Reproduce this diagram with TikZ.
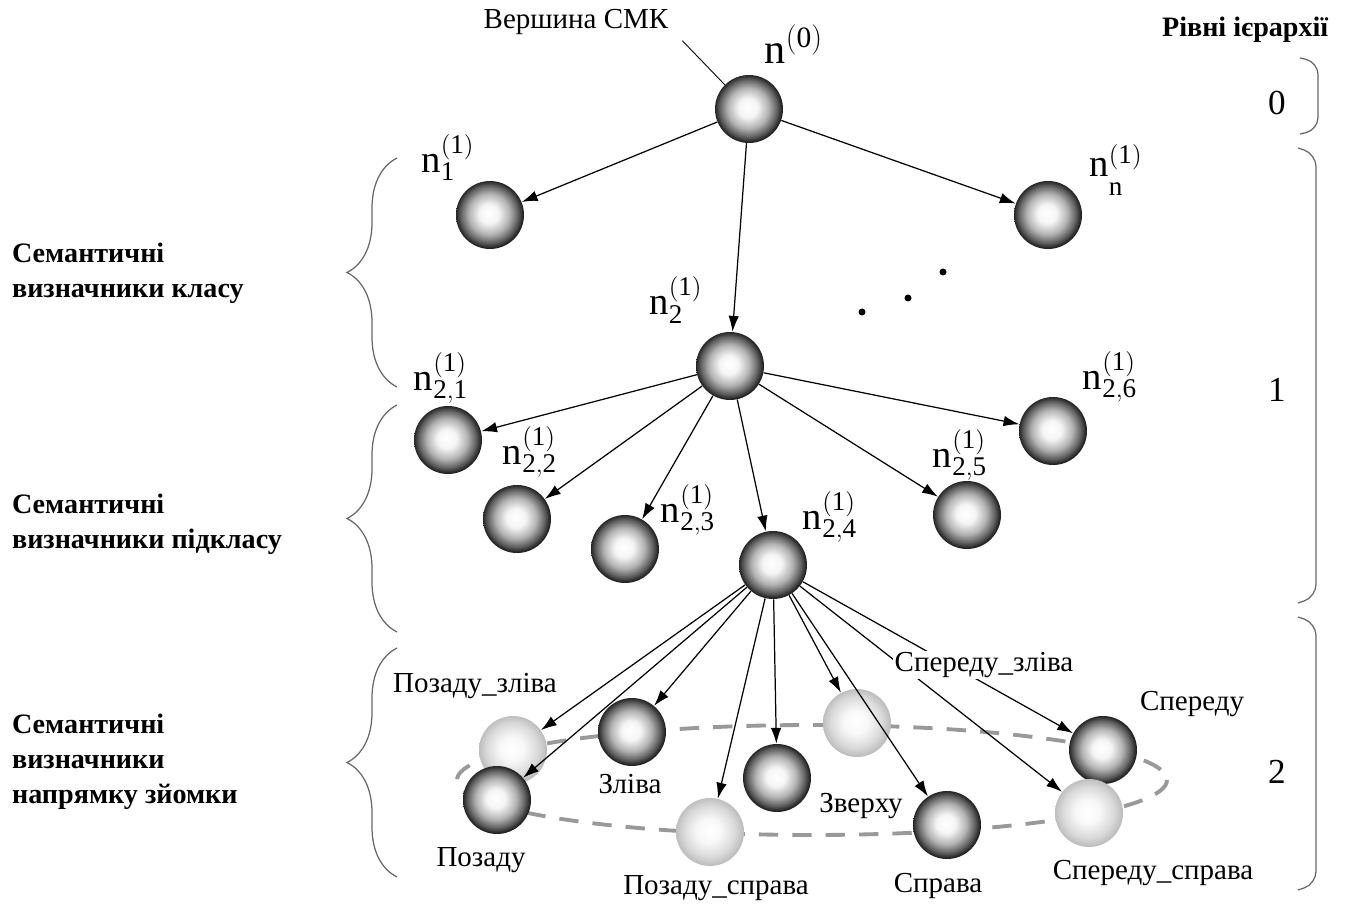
\documentclass[tikz,border=0pt]{standalone}
\usepackage{fontspec}
\setmainfont{Liberation Serif}
\usetikzlibrary{arrows.meta,decorations.pathreplacing}
\pgfdeclareradialshading{darkball}{\pgfpoint{-1bp}{1bp}}{color(0bp)=(white); color(7bp)=(white!96!black); color(15bp)=(black!30); color(21bp)=(black!62); color(24bp)=(black!82); color(25bp)=(black!88); color(50bp)=(black!88)}
\pgfdeclareradialshading{lightball}{\pgfpoint{-1bp}{1bp}}{color(0bp)=(white); color(9bp)=(white!97!black); color(19bp)=(black!15); color(25bp)=(black!26); color(50bp)=(black!26)}
\begin{document}
\begin{tikzpicture}[x=0.02cm,y=-0.02cm,every node/.style={inner sep=1pt, font=\fontsize{16.5}{19}\selectfont},
  ball/.style={circle, minimum size=1.36cm, inner sep=0pt, shading=darkball},
  lightb/.style={ball, shading=lightball},
  nlabel/.style={font=\fontsize{22}{26}\selectfont},
  side/.style={align=left, anchor=west, font=\fontsize{16}{20}\selectfont\bfseries},
  lvl/.style={font=\fontsize{20}{24}\selectfont},
  arr/.style={-{Latex[length=9pt,width=6pt]}, line width=0.7pt},
  brk/.style={black!60, line width=0.7pt}]
\useasboundingbox (0,0) rectangle (1352,908);
\node[ball] (n0) at (749,109) {};
\node[ball] (n11) at (490,215) {};
\node[ball] (n1n) at (1048,215) {};
\node[ball] (n2) at (730,366) {};
\node[ball] (n21) at (448,440) {};
\node[ball] (n22) at (517,519) {};
\node[ball] (n23) at (625,549) {};
\node[ball] (n24) at (773,565) {};
\node[ball] (n25) at (967,515) {};
\node[ball] (n26) at (1053,431) {};
\fill (943,272) circle (3.5);
\fill (908,298) circle (3.5);
\fill (862,312) circle (3.5);
\draw[black!40,line width=2.2pt,dash pattern=on 11pt off 8pt] (812,780) ellipse [x radius=355, y radius=55];
\node[lightb] (pzl) at (513,750) {};
\node[ball] (pz) at (497,800) {};
\node[ball] (zl) at (632,732) {};
\node[lightb] (pzs) at (710,832) {};
\node[ball] (zv) at (777,778) {};
\node[lightb] (szl) at (857,723) {};
\node[ball] (spr) at (947,825) {};
\node[ball] (sp) at (1103,750) {};
\node[lightb] (sps) at (1089,813) {};
\draw[arr] (n0) -- (n11);
\draw[arr] (n0) -- (n1n);
\draw[arr] (n0) -- (n2);
\foreach \t in {n21,n22,n23,n24,n25,n26}
  \draw[arr] (n2) -- (\t);
\foreach \t in {pzl,pz,zl,pzs,zv,szl,spr,sp,sps}
  \draw[arr] (n24) -- (\t);
\node (vtx) at (576,22) {Вершина СМК};
\draw[line width=0.5pt] ([xshift=0.24cm,yshift=-0.08cm]vtx.south east) -- (n0.north west);
\node[side] (lvls) at (1160,30) {Рівні ієрархії};
\node[nlabel,font=\fontsize{24}{28}\selectfont] (l0) at (794,44) {$\mathrm{n}^{\mathrm{(0)}}$};
\node[nlabel] (l11) at (448,158) {$\mathrm{n}^{\mathrm{(1)}}_{\mathrm{1}}$};
\node[nlabel] (l1n) at (1116,170) {$\mathrm{n}^{\mathrm{(1)}}_{\raisebox{-6pt}{$\scriptstyle\mathrm{n}$}}$};
\node[nlabel] (l2) at (676,300) {$\mathrm{n}^{\mathrm{(1)}}_{\mathrm{2}}$};
\node[nlabel] (l21) at (441,378) {$\mathrm{n}^{\mathrm{(1)}}_{\mathrm{2,1}}$};
\node[nlabel] (l22) at (530,452) {$\mathrm{n}^{\mathrm{(1)}}_{\mathrm{2,2}}$};
\node[nlabel] (l23) at (688,510) {$\mathrm{n}^{\mathrm{(1)}}_{\mathrm{2,3}}$};
\node[nlabel] (l24) at (830,517) {$\mathrm{n}^{\mathrm{(1)}}_{\mathrm{2,4}}$};
\node[nlabel] (l25) at (960,455) {$\mathrm{n}^{\mathrm{(1)}}_{\mathrm{2,5}}$};
\node[nlabel] (l26) at (1110,377) {$\mathrm{n}^{\mathrm{(1)}}_{\mathrm{2,6}}$};
\node (lpzl) at (475,686) {Позаду\_зліва};
\node (lpz) at (481,860) {Позаду};
\node (lzl) at (630,784) {Зліва};
\node (lpzs) at (716,888) {Позаду\_справа};
\node (lzv) at (861,806) {Зверху};
\node (lspr) at (938,886) {Справа};
\node (lsp) at (1192,704) {Спереду};
\node (lsps) at (1153,873) {Спереду\_справа};
\node[fill=white] (lszl) at (984,665) {Спереду\_зліва};
\node[side] (cls) at (10,273) {Семантичні\\визначники класу};
\node[side] (sub) at (10,524) {Семантичні\\визначники підкласу};
\node[side] (dir) at (10,762) {Семантичні\\визначники\\напрямку зйомки};
\draw[brk,decorate,decoration={brace,amplitude=1cm}] (397,387) -- (397,158);
\draw[brk,decorate,decoration={brace,amplitude=1cm}] (397,632) -- (397,405);
\draw[brk,decorate,decoration={brace,amplitude=1cm}] (397,877) -- (397,648);
\draw[brk,rounded corners=0.25cm] (1300,58) -- (1318,62) -- (1318,130) -- (1300,134);
\draw[brk,rounded corners=0.25cm] (1298,148) -- (1316,154) -- (1316,597) -- (1298,603);
\draw[brk,rounded corners=0.25cm] (1298,617) -- (1316,623) -- (1316,884) -- (1298,890);
\node[lvl] (lv0) at (1277,103) {0};
\node[lvl] (lv1) at (1277,390) {1};
\node[lvl] (lv2) at (1277,772) {2};
\end{tikzpicture}
\end{document}
